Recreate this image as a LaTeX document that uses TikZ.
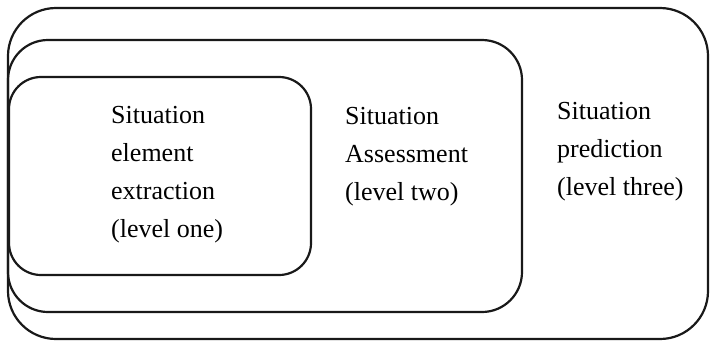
\documentclass[tikz,border=0pt]{standalone}
\usepackage{fontspec}
\setmainfont{Liberation Serif}
\begin{document}
\begin{tikzpicture}[x=1pt,y=-1pt,
  levelbox/.style={draw=black!90,line width=2.2pt},
  leveltext/.style={anchor=base west,align=left,inner sep=0pt,
    font=\fontsize{26}{38}\selectfont}]
\useasboundingbox (0,0) rectangle (711,343);
% level three (outermost)
\draw[levelbox,rounded corners=48] (8,8) rectangle (708,339);
% level two
\draw[levelbox,rounded corners=40] (8,40) rectangle (522,312);
% level one (innermost)
\draw[levelbox,rounded corners=32] (9,77) rectangle (311,275);
% labels, placed by the baseline of their last line
\node[leveltext] (one)   at (111,237) {Situation\\element\\extraction\\(level one)};
\node[leveltext] (two)   at (345,200) {Situation\\Assessment\\(level two)};
\node[leveltext] (three) at (557,195) {Situation\\prediction\\(level three)};
\end{tikzpicture}
\end{document}
